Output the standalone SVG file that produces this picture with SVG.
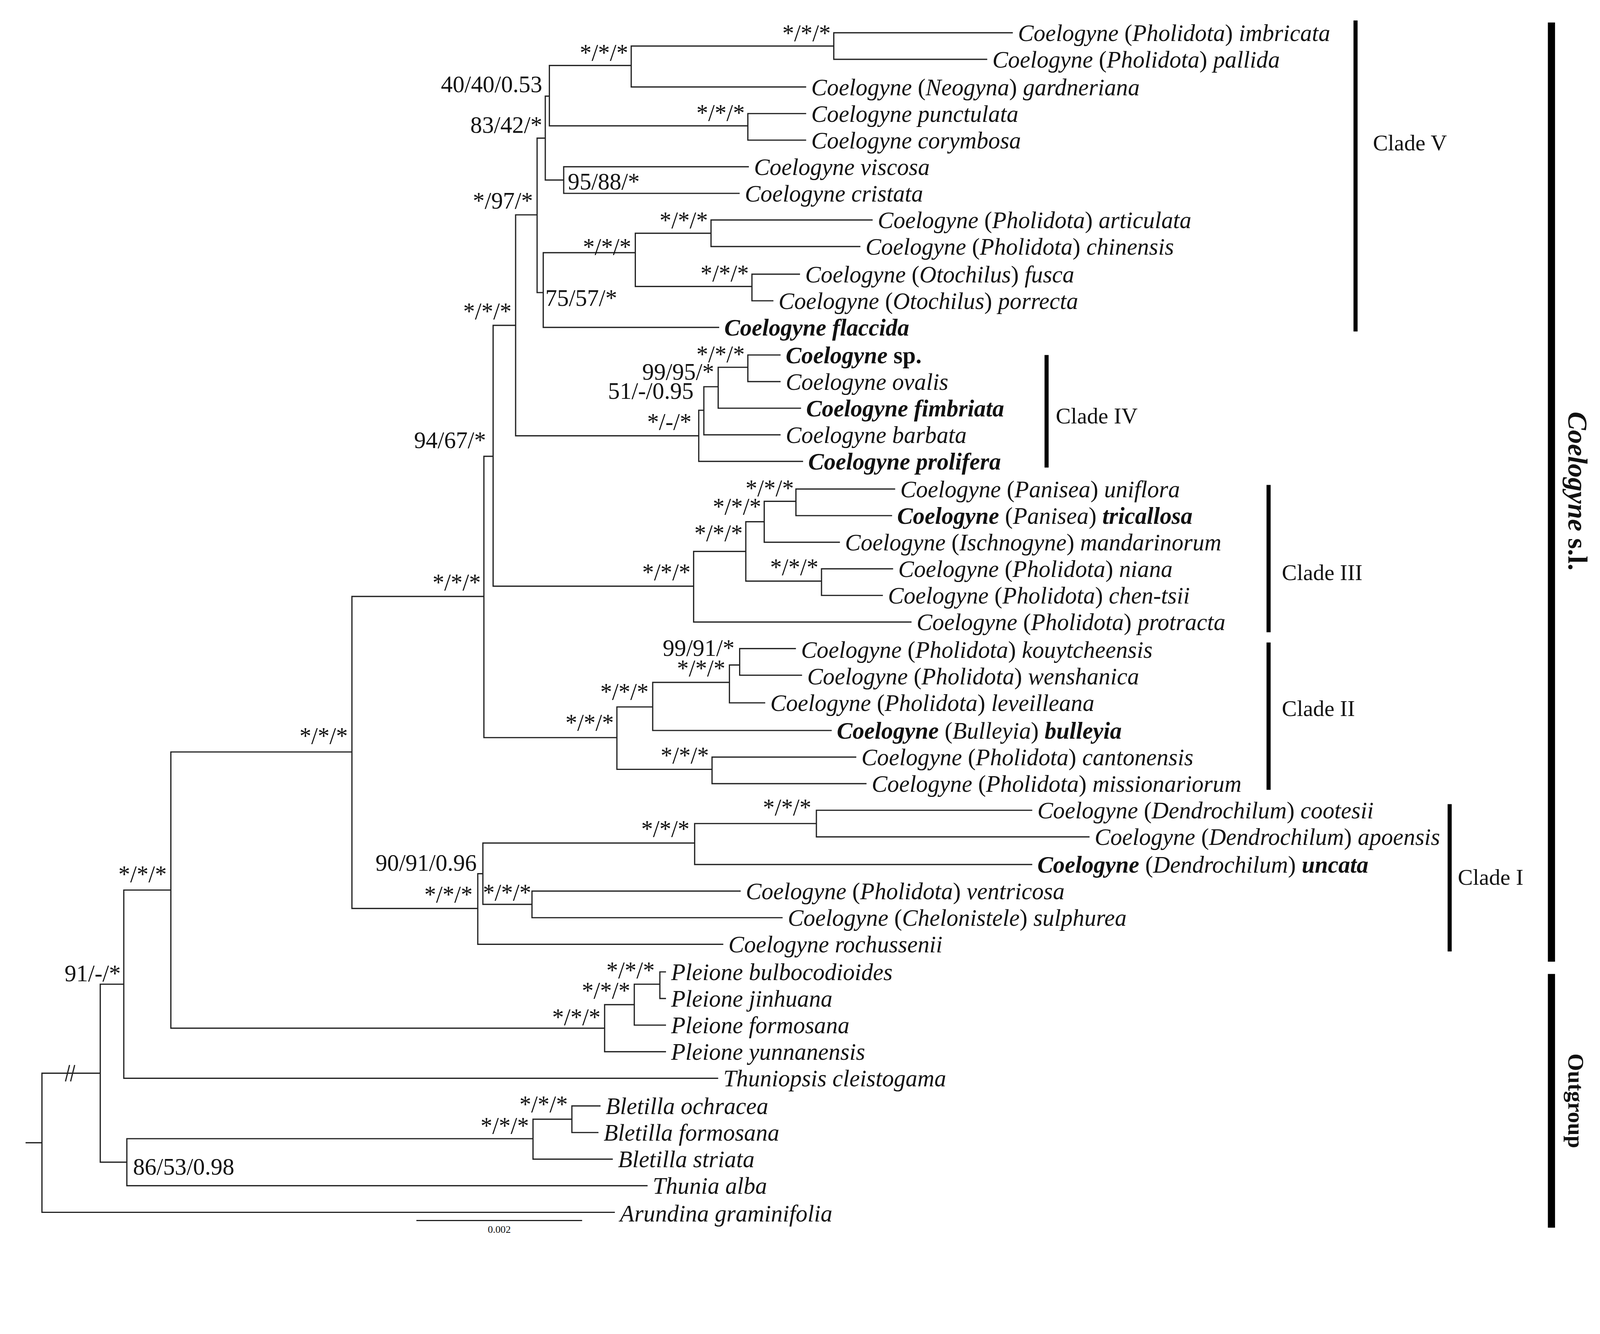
<svg xmlns="http://www.w3.org/2000/svg" width="4382" height="3415" viewBox="0 0 4382 3415">
<style>
.c path{fill:none;stroke:#222;stroke-width:1.2}
text{font-family:"Liberation Serif","Times New Roman",serif;fill:#111}
.t{font-size:23px;font-style:italic}
.b{font-weight:bold}
.n{font-style:normal}
.l{font-size:23px}
.e{text-anchor:end}
.k{font-size:22px}
</style>
<rect width="4382" height="3415" fill="#fff"/>
<g transform="scale(2.619)">
<g class="c" id="connectors">
<path d="M990 32H815V58H965"/>
<path d="M815 45H617V85H788"/>
<path d="M788 111H731V137H788"/>
<path d="M617 64H537V123H731"/>
<path d="M732 163H551V189H723"/>
<path d="M537 94H533V176H551"/>
<path d="M853 215H695V241H841"/>
<path d="M782 268H735V294H756"/>
<path d="M695 228H621V280H735"/>
<path d="M621 247H531V320H703"/>
<path d="M533 135H525V286H531"/>
<path d="M763 347H731V373H763"/>
<path d="M731 359H702V399H783"/>
<path d="M702 378H688V425H763"/>
<path d="M688 401H683V451H785"/>
<path d="M525 210H504V426H683"/>
<path d="M875 478H778V504H872"/>
<path d="M778 490H747V530H821"/>
<path d="M873 556H803V582H863"/>
<path d="M747 510H729V568H803"/>
<path d="M729 539H678V608H891"/>
<path d="M504 318H482V573H678"/>
<path d="M778 634H723V660H784"/>
<path d="M723 650H713V687H748"/>
<path d="M713 667H638V714H813"/>
<path d="M837 740H696V766H847"/>
<path d="M638 691H603V752H696"/>
<path d="M482 446H473V721H603"/>
<path d="M1009 792H798V818H1065"/>
<path d="M798 805H679V845H1009"/>
<path d="M724 871H520V897H765"/>
<path d="M679 824H472V884H520"/>
<path d="M472 854H467V923H707"/>
<path d="M473 583H344V888H467"/>
<path d="M651 950H645V976H651"/>
<path d="M645 962H620V1002H651"/>
<path d="M620 982H591V1028H651"/>
<path d="M344 735H167V1005H591"/>
<path d="M167 870H121V1054H702"/>
<path d="M587 1081H559V1107H585"/>
<path d="M559 1094H521V1133H599"/>
<path d="M521 1113H124V1159H633"/>
<path d="M121 962H98V1136H124"/>
<path d="M98 1049H41V1185H601"/>
<path d="M25 1117H41"/>
<path d="M64 1057L68 1041M69 1057L73 1041"/>
<path d="M407 1193H569"/>
</g>
<g id="taxa" class="t">
<text x="995" y="40">Coelogyne <tspan class="n">(</tspan>Pholidota<tspan class="n">)</tspan> imbricata</text>
<text x="970" y="66">Coelogyne <tspan class="n">(</tspan>Pholidota<tspan class="n">)</tspan> pallida</text>
<text x="793" y="93">Coelogyne <tspan class="n">(</tspan>Neogyna<tspan class="n">)</tspan> gardneriana</text>
<text x="793" y="119">Coelogyne punctulata</text>
<text x="793" y="145">Coelogyne corymbosa</text>
<text x="737" y="171">Coelogyne viscosa</text>
<text x="728" y="197">Coelogyne cristata</text>
<text x="858" y="223">Coelogyne <tspan class="n">(</tspan>Pholidota<tspan class="n">)</tspan> articulata</text>
<text x="846" y="249">Coelogyne <tspan class="n">(</tspan>Pholidota<tspan class="n">)</tspan> chinensis</text>
<text x="787" y="276">Coelogyne <tspan class="n">(</tspan>Otochilus<tspan class="n">)</tspan> fusca</text>
<text x="761" y="302">Coelogyne <tspan class="n">(</tspan>Otochilus<tspan class="n">)</tspan> porrecta</text>
<text x="708" y="328" class="b">Coelogyne flaccida</text>
<text x="768" y="355" class="b">Coelogyne <tspan class="n">sp.</tspan></text>
<text x="768" y="381">Coelogyne ovalis</text>
<text x="788" y="407" class="b">Coelogyne fimbriata</text>
<text x="768" y="433">Coelogyne barbata</text>
<text x="790" y="459" class="b">Coelogyne prolifera</text>
<text x="880" y="486">Coelogyne <tspan class="n">(</tspan>Panisea<tspan class="n">)</tspan> uniflora</text>
<text x="877" y="512"><tspan class="b">Coelogyne</tspan> <tspan class="n">(</tspan>Panisea<tspan class="n">)</tspan> <tspan class="b">tricallosa</tspan></text>
<text x="826" y="538">Coelogyne <tspan class="n">(</tspan>Ischnogyne<tspan class="n">)</tspan> mandarinorum</text>
<text x="878" y="564">Coelogyne <tspan class="n">(</tspan>Pholidota<tspan class="n">)</tspan> niana</text>
<text x="868" y="590">Coelogyne <tspan class="n">(</tspan>Pholidota<tspan class="n">)</tspan> chen-tsii</text>
<text x="896" y="616">Coelogyne <tspan class="n">(</tspan>Pholidota<tspan class="n">)</tspan> protracta</text>
<text x="783" y="643">Coelogyne <tspan class="n">(</tspan>Pholidota<tspan class="n">)</tspan> kouytcheensis</text>
<text x="789" y="669">Coelogyne <tspan class="n">(</tspan>Pholidota<tspan class="n">)</tspan> wenshanica</text>
<text x="753" y="695">Coelogyne <tspan class="n">(</tspan>Pholidota<tspan class="n">)</tspan> leveilleana</text>
<text x="818" y="722"><tspan class="b">Coelogyne</tspan> <tspan class="n">(</tspan>Bulleyia<tspan class="n">)</tspan> <tspan class="b">bulleyia</tspan></text>
<text x="842" y="748">Coelogyne <tspan class="n">(</tspan>Pholidota<tspan class="n">)</tspan> cantonensis</text>
<text x="852" y="774">Coelogyne <tspan class="n">(</tspan>Pholidota<tspan class="n">)</tspan> missionariorum</text>
<text x="1014" y="800">Coelogyne <tspan class="n">(</tspan>Dendrochilum<tspan class="n">)</tspan> cootesii</text>
<text x="1070" y="826">Coelogyne <tspan class="n">(</tspan>Dendrochilum<tspan class="n">)</tspan> apoensis</text>
<text x="1014" y="853"><tspan class="b">Coelogyne</tspan> <tspan class="n">(</tspan>Dendrochilum<tspan class="n">)</tspan> <tspan class="b">uncata</tspan></text>
<text x="729" y="879">Coelogyne <tspan class="n">(</tspan>Pholidota<tspan class="n">)</tspan> ventricosa</text>
<text x="770" y="905">Coelogyne <tspan class="n">(</tspan>Chelonistele<tspan class="n">)</tspan> sulphurea</text>
<text x="712" y="931">Coelogyne rochussenii</text>
<text x="656" y="958">Pleione bulbocodioides</text>
<text x="656" y="984">Pleione jinhuana</text>
<text x="656" y="1010">Pleione formosana</text>
<text x="656" y="1036">Pleione yunnanensis</text>
<text x="707" y="1062">Thuniopsis cleistogama</text>
<text x="592" y="1089">Bletilla ochracea</text>
<text x="590" y="1115">Bletilla formosana</text>
<text x="604" y="1141">Bletilla striata</text>
<text x="638" y="1167">Thunia alba</text>
<text x="606" y="1194">Arundina graminifolia</text>
</g>
<g id="support" class="l">
<text x="812" y="40" class="e">*/*/*</text>
<text x="614" y="59" class="e">*/*/*</text>
<text x="728" y="118" class="e">*/*/*</text>
<text x="530" y="90" class="e">40/40/0.53</text>
<text x="530" y="130" class="e">83/42/*</text>
<text x="555" y="185">95/88/*</text>
<text x="521" y="204" class="e">*/97/*</text>
<text x="692" y="223" class="e">*/*/*</text>
<text x="617" y="249" class="e">*/*/*</text>
<text x="732" y="275" class="e">*/*/*</text>
<text x="533" y="299">75/57/*</text>
<text x="500" y="312" class="e">*/*/*</text>
<text x="728" y="354" class="e">*/*/*</text>
<text x="698" y="371" class="e">99/95/*</text>
<text x="678" y="390" class="e">51/-/0.95</text>
<text x="676" y="420" class="e">*/-/*</text>
<text x="475" y="438" class="e">94/67/*</text>
<text x="776" y="485" class="e">*/*/*</text>
<text x="744" y="503" class="e">*/*/*</text>
<text x="726" y="529" class="e">*/*/*</text>
<text x="800" y="562" class="e">*/*/*</text>
<text x="675" y="567" class="e">*/*/*</text>
<text x="470" y="577" class="e">*/*/*</text>
<text x="718" y="641" class="e">99/91/*</text>
<text x="709" y="661" class="e">*/*/*</text>
<text x="634" y="684" class="e">*/*/*</text>
<text x="600" y="714" class="e">*/*/*</text>
<text x="693" y="746" class="e">*/*/*</text>
<text x="793" y="797" class="e">*/*/*</text>
<text x="674" y="818" class="e">*/*/*</text>
<text x="466" y="851" class="e">90/91/0.96</text>
<text x="472" y="880">*/*/*</text>
<text x="462" y="882" class="e">*/*/*</text>
<text x="340" y="727" class="e">*/*/*</text>
<text x="163" y="862" class="e">*/*/*</text>
<text x="640" y="956" class="e">*/*/*</text>
<text x="616" y="976" class="e">*/*/*</text>
<text x="587" y="1002" class="e">*/*/*</text>
<text x="118" y="959" class="e">91/-/*</text>
<text x="555" y="1087" class="e">*/*/*</text>
<text x="517" y="1108" class="e">*/*/*</text>
<text x="130" y="1148">86/53/0.98</text>
<text x="488" y="1205" style="font-size:10px;text-anchor:middle">0.002</text>
</g>
<g id="clades">
<rect x="1323" y="20" width="4" height="304" fill="#000"/>
<text x="1342" y="147" class="k">Clade V</text>
<rect x="1021" y="347" width="4" height="110" fill="#000"/>
<text x="1032" y="414" class="k">Clade IV</text>
<rect x="1238" y="474" width="4" height="144" fill="#000"/>
<text x="1253" y="567" class="k">Clade III</text>
<rect x="1238" y="628" width="4" height="144" fill="#000"/>
<text x="1253" y="700" class="k">Clade II</text>
<rect x="1415" y="786" width="4" height="144" fill="#000"/>
<text x="1425" y="865" class="k">Clade I</text>
<rect x="1513" y="22" width="7" height="918" fill="#000"/>
<text transform="translate(1533 480) rotate(90)" class="b" style="font-size:27px" text-anchor="middle"><tspan font-style="italic">Coelogyne</tspan> s.l.</text>
<rect x="1513" y="952" width="7" height="248" fill="#000"/>
<text transform="translate(1533 1076) rotate(90)" class="k b" text-anchor="middle">Outgroup</text>
</g>
</g>
</svg>
